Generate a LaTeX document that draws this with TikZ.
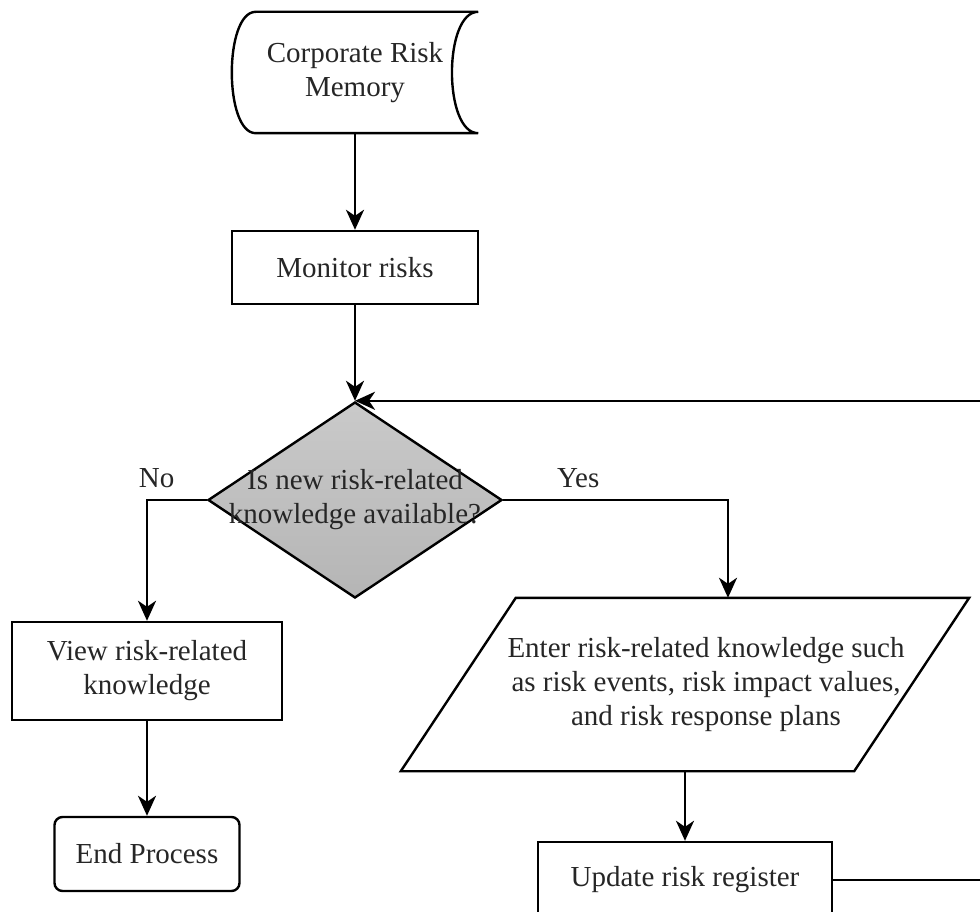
\documentclass[tikz,border=0pt]{standalone}
\usepackage{fontspec}
\setmainfont{Liberation Serif}
\usetikzlibrary{arrows.meta,shapes.geometric}

\begin{document}
\begin{tikzpicture}[x=1pt, y=-1pt,
        font=\fontsize{29}{34}\selectfont,
        procbox/.style={draw, line width=2.4pt, align=center, text=black!85},
        flowline/.style={line width=2.4pt, -{Stealth[length=20pt, width=18pt, inset=6pt]}},
        flowlabel/.style={anchor=base, yshift=13pt, inner sep=0pt, text=black!85}]
        \useasboundingbox (0,0) rectangle (980,912);
        \clip (0,0) rectangle (980,912);

        % stored data
        \node[align=center, text=black!85, minimum width=246, minimum height=121] (memory) at (355,72.5) {Corporate Risk\\Memory};
        \draw[line width=2.4pt] ([xshift=24pt]memory.north west) -- (memory.north east)
            .. controls ([xshift=-35pt]memory.north east) and ([xshift=-35pt]memory.south east) .. (memory.south east)
            -- ([xshift=24pt]memory.south west)
            .. controls ([xshift=-8pt]memory.south west) and ([xshift=-8pt]memory.north west) .. ([xshift=24pt]memory.north west) -- cycle;

        \node[procbox, minimum width=246, minimum height=73] (monitor) at (355,267.5) {Monitor risks};

        \node[diamond, draw, line width=2.4pt, top color=gray!42, bottom color=gray!58, inner sep=0pt,
            text=black!85, minimum width=294, minimum height=196, align=center] (decision) at (355,500)
            {\makebox[0pt]{Is new risk-related}\\\makebox[0pt]{knowledge available?}};

        \node[procbox, minimum width=270, minimum height=98] (view) at (147,671) {View risk-related\\knowledge};
        \node[procbox, rounded corners=8pt, minimum width=185, minimum height=74] (finish) at (147,854) {End Process};

        % data input (parallelogram)
        \node[procbox, draw=none, minimum width=451, minimum height=171] (entry) at (706,684.5)
            {Enter risk-related knowledge such\\as risk events, risk impact values,\\and risk response plans};
        \draw[line width=2.4pt] ([xshift=36.5pt]entry.north west) -- ([xshift=36.5pt]entry.north east)
            -- ([xshift=-78.5pt]entry.south east) -- ([xshift=-78.5pt]entry.south west) -- cycle;

        \node[procbox, minimum width=294, minimum height=76] (update) at (685,880) {Update risk register};

        \coordinate (loopturn) at (1010,0);

        % connectors
        \draw[flowline] (memory) -- (monitor);
        \draw[flowline] (monitor) -- (decision.north);
        \draw[flowline] (decision.west) -| node[flowlabel, pos=0.42] {No} (view.north);
        \draw[flowline] (view) -- (finish);
        \draw[flowline] (decision.east) -| node[flowlabel, pos=0.167] {Yes} ([xshift=22pt]entry.north);
        \draw[flowline] (entry.south -| update.north) -- (update.north);
        \draw[flowline] (update.east) -| (loopturn |- decision.north) -- (decision.north);
\end{tikzpicture}
\end{document}
